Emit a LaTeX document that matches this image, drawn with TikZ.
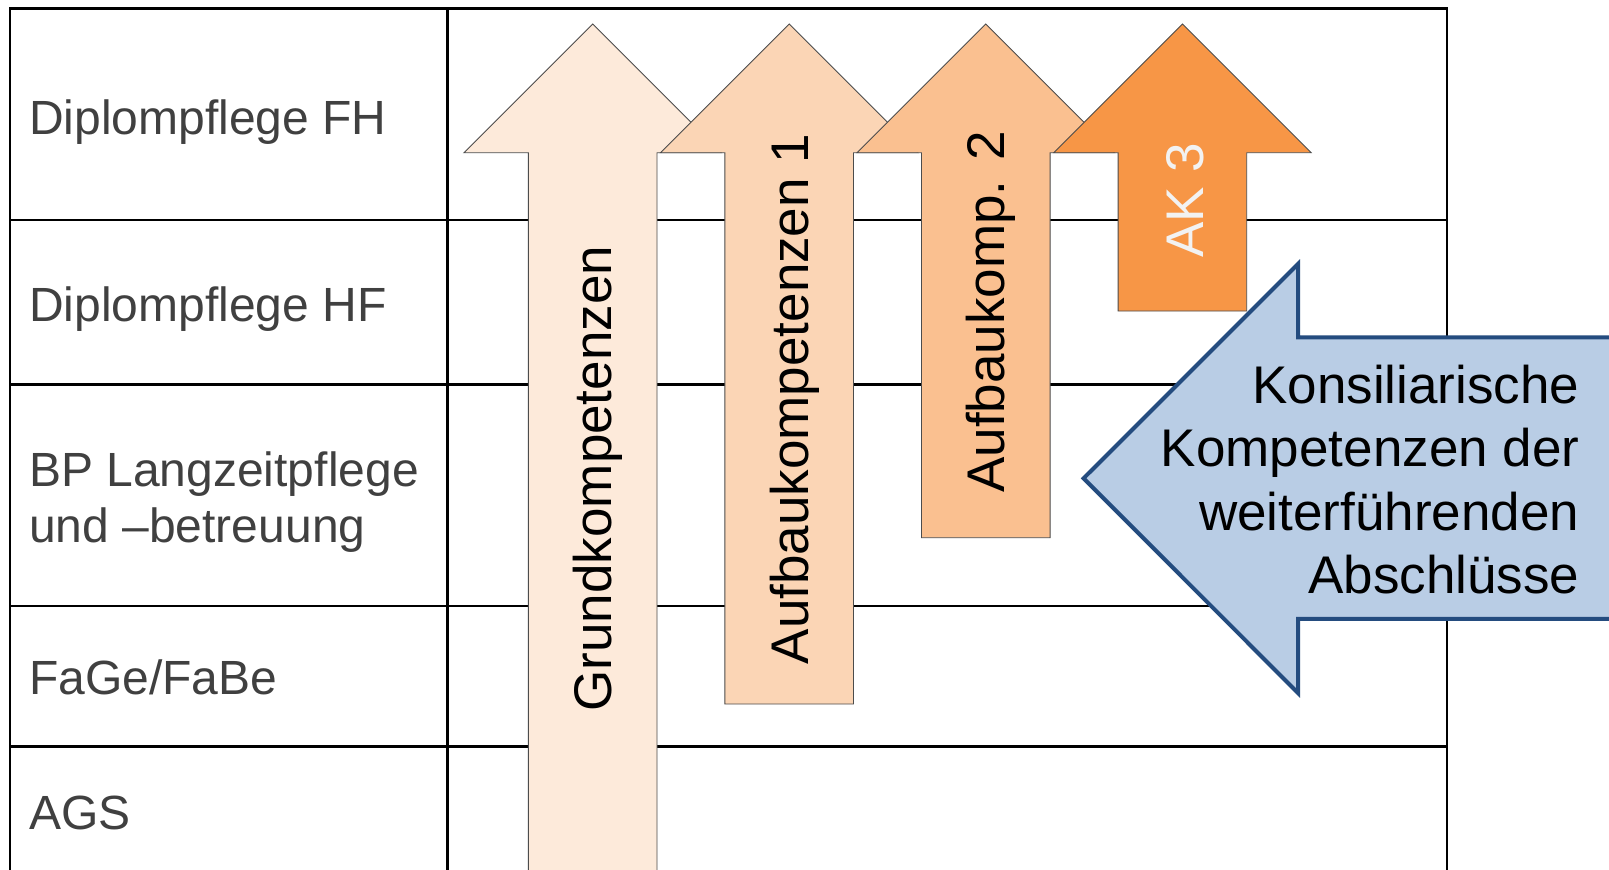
\documentclass[tikz,border=0pt]{standalone}
\usepackage{fontspec}
\setmainfont{Liberation Sans}
\definecolor{labelgrey}{HTML}{404040}
\definecolor{orangeA}{HTML}{FDEADA}
\definecolor{orangeB}{HTML}{FBD5B5}
\definecolor{orangeC}{HTML}{FAC090}
\definecolor{orangeD}{HTML}{F79646}
\definecolor{blueFill}{HTML}{B9CDE5}
\definecolor{blueLine}{HTML}{244C7F}
\definecolor{akwhite}{HTML}{F2F2F2}
\tikzset{
  gridline/.style={line width=2.6pt, black},
  rowlabel/.style={anchor=base west, inner sep=0pt, text=labelgrey,
    font=\fontsize{48}{56}\selectfont},
  arrowtext/.style={rotate=90, inner sep=0pt, font=\fontsize{53}{60}\selectfont},
  sidetext/.style={anchor=base east, inner sep=0pt, font=\fontsize{53}{63}\selectfont},
  arrowline/.style={draw=black!70, line width=0.9pt, line join=miter},
  % upward block arrow: tip at the pic origin, #2 = length from tip to bottom
  pics/uparrowshape/.style args={#1/#2}{code={
    \draw[arrowline, fill=#1] (0,0) -- (128.7,128.7) -- (64.3,128.7) -- (64.3,#2)
      -- (-64.3,#2) -- (-64.3,128.7) -- (-128.7,128.7) -- cycle;
  }}
}
\begin{document}
\begin{tikzpicture}[x=1pt,y=-1pt]
\useasboundingbox (0,0) rectangle (1609,870);
\clip (0,0) rectangle (1609,870);
\fill[white] (0,0) rectangle (1609,870);

% table grid
\draw[gridline] (10,900) -- (10,8.3) -- (1447,8.3) -- (1447,900);
\draw[gridline] (447.5,8.3) -- (447.5,900);
\foreach \yy in {220,384.5,606,746.5}
  \draw[gridline] (10,\yy) -- (1447,\yy);

% row labels
\node[rowlabel] (fh)   at (29,134)   {Diplompflege FH};
\node[rowlabel] (hf)   at (29,321)   {Diplompflege HF};
\node[rowlabel] (bp1)  at (29,486)   {BP Langzeitpflege};
\node[rowlabel] (bp2)  at (29,542)   {und –betreuung};
\node[rowlabel] (fage) at (29,694.5) {FaGe/FaBe};
\node[rowlabel] (ags)  at (29,829)   {AGS};

% competence arrows, later ones overlapping earlier ones
\pic at (592.7,24)  {uparrowshape={orangeA/900}};
\pic at (789.2,24)  {uparrowshape={orangeB/680}};
\pic at (985.8,24)  {uparrowshape={orangeC/513.7}};
\pic at (1182.4,24) {uparrowshape={orangeD/287}};

\node[arrowtext] (grund) at (597.5,478.6) {Grundkompetenzen};
\node[arrowtext] (auf1)  at (795,399)     {Aufbaukompetenzen 1};
\node[arrowtext] (auf2)  at (991,312)     {Aufbaukomp. 2};
\node[arrowtext, text=akwhite] (ak3) at (1185,200) {AK 3};

% consultative competences arrow
\draw[line width=4pt, draw=blueLine, fill=blueFill, line join=miter]
  (1083.6,478.3) -- (1298,264) -- (1298,337.3) -- (1640,337.3)
  -- (1640,618.8) -- (1298,618.8) -- (1298,693) -- cycle;
\node[sidetext] (k1) at (1579.5,403.3) {Konsiliarische};
\node[sidetext] (k2) at (1579.5,466.7) {Kompetenzen der};
\node[sidetext] (k3) at (1579.5,530)   {weiterführenden};
\node[sidetext] (k4) at (1579.5,593.3) {Abschlüsse};
\end{tikzpicture}
\end{document}
